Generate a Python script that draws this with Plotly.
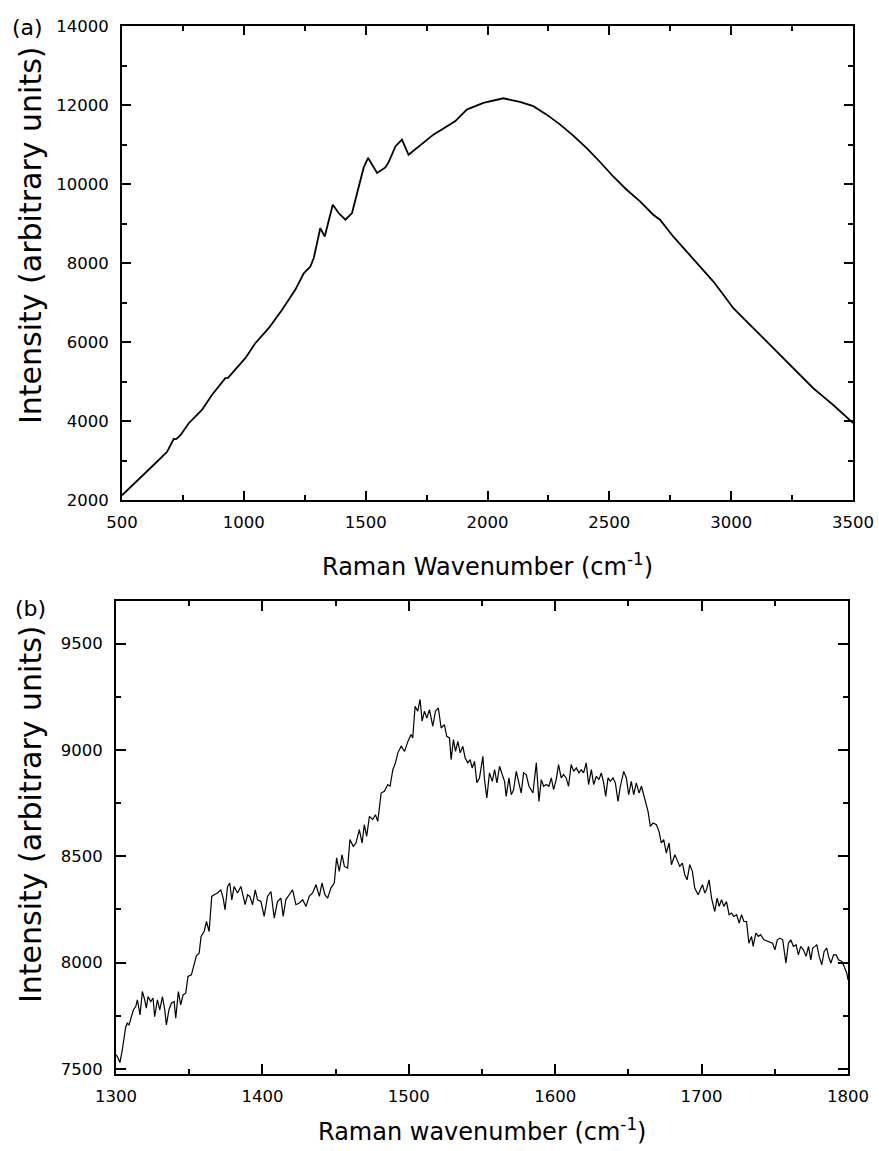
import plotly.graph_objects as go

# ---------------- data: panel (a) ----------------
top_wavenumber = [500, 582, 637, 685, 705, 712, 722, 740, 774, 828, 869, 910, 924, 935,
                  1006, 1047, 1102, 1157, 1211, 1246, 1273, 1287, 1314, 1332, 1365, 1389,
                  1417, 1444, 1464, 1492, 1510, 1547, 1581, 1594, 1622, 1649, 1676, 1731,
                  1778, 1867, 1915, 1983, 2065, 2133, 2188, 2243, 2297, 2352, 2407, 2462,
                  2516, 2571, 2626, 2680, 2708, 2762, 2804, 2872, 2927, 2968, 3009, 3064,
                  3118, 3173, 3228, 3283, 3337, 3378, 3419, 3494, 3500]
top_intensity = [2120, 2590, 2930, 3220, 3460, 3545, 3540, 3640, 3944, 4280, 4660, 5000, 5085, 5090,
                 5590, 5970, 6350, 6815, 7320, 7740, 7910, 8125, 8885, 8670, 9475, 9265,
                 9095, 9265, 9770, 10420, 10660, 10280, 10420, 10550, 10950, 11125, 10740, 11020,
                 11250, 11586, 11883, 12052, 12170, 12078, 11970, 11756, 11510, 11224, 10910, 10557,
                 10190, 9855, 9560, 9222, 9095, 8672, 8380, 7912, 7530, 7195, 6855, 6518,
                 6180, 5844, 5500, 5168, 4830, 4618, 4405, 3985, 3950]

# ---------------- data: panel (b) ----------------
bottom_wavenumber = [
    1300.0, 1300.9, 1302.7, 1304.3, 1306.6, 1307.7, 1308.9, 1310.0, 1311.9, 1313.5, 1314.6, 1316.4,
    1318.0, 1319.6, 1320.7, 1321.9, 1323.7, 1325.3, 1326.4, 1328.3, 1329.9, 1331.7, 1333.3, 1334.4,
    1336.2, 1337.8, 1339.7, 1340.8, 1342.6, 1344.2, 1345.8, 1347.6, 1349.2, 1351.5, 1353.3, 1354.9,
    1356.8, 1358.1, 1360.2, 1361.8, 1363.6, 1365.4, 1367.0, 1369.3, 1371.6, 1373.2, 1374.5, 1376.2,
    1377.7, 1379.1, 1380.7, 1383.0, 1385.3, 1386.9, 1388.2, 1389.9, 1391.4, 1393.3, 1395.1, 1396.7,
    1399.0, 1401.2, 1403.5, 1405.8, 1408.1, 1410.3, 1412.6, 1414.2, 1416.0, 1418.3, 1420.6, 1422.9,
    1425.2, 1427.5, 1429.8, 1432.0, 1434.3, 1436.6, 1438.9, 1440.7, 1442.7, 1444.6, 1446.8, 1449.1,
    1450.7, 1452.5, 1454.4, 1456.0, 1458.2, 1459.8, 1462.1, 1463.9, 1466.2, 1468.1, 1469.6, 1471.2,
    1473.1, 1475.3, 1477.2, 1478.8, 1481.1, 1483.3, 1485.6, 1487.2, 1489.1, 1490.9, 1492.5, 1494.8,
    1497.1, 1499.4, 1501.6, 1502.7, 1504.3, 1506.1, 1507.7, 1509.1, 1510.7, 1512.3, 1514.1, 1516.4,
    1518.2, 1520.2, 1522.1, 1524.3, 1525.9, 1527.8, 1528.9, 1530.5, 1531.9, 1533.5, 1535.1, 1536.9,
    1538.5, 1540.3, 1541.9, 1543.3, 1544.9, 1546.5, 1548.3, 1550.6, 1551.7, 1553.3, 1555.1, 1557.0,
    1558.6, 1560.2, 1562.0, 1563.8, 1565.4, 1566.5, 1568.4, 1570.0, 1571.6, 1573.4, 1575.2, 1576.8,
    1578.4, 1580.2, 1582.1, 1583.7, 1584.8, 1587.1, 1588.9, 1590.5, 1592.1, 1593.9, 1595.7, 1597.3,
    1598.9, 1600.7, 1602.3, 1604.1, 1605.7, 1607.5, 1609.1, 1610.9, 1612.6, 1614.4, 1616.2, 1617.8,
    1619.4, 1621.2, 1622.8, 1624.7, 1626.3, 1628.1, 1629.9, 1631.5, 1633.1, 1634.5, 1636.1, 1637.7,
    1639.5, 1641.1, 1642.9, 1644.5, 1646.8, 1648.6, 1650.2, 1652.0, 1653.6, 1655.4, 1657.3, 1658.9,
    1660.5, 1661.8, 1663.4, 1665.0, 1666.8, 1669.1, 1670.9, 1672.5, 1674.1, 1675.9, 1677.8, 1679.4,
    1681.7, 1683.2, 1685.1, 1686.9, 1688.5, 1690.1, 1691.9, 1693.7, 1695.3, 1697.6, 1700.6, 1702.2,
    1703.3, 1705.1, 1706.8, 1709.0, 1710.6, 1712.0, 1713.6, 1715.2, 1717.0, 1718.8, 1720.4, 1722.0,
    1723.9, 1725.7, 1727.3, 1728.9, 1730.7, 1732.3, 1734.1, 1735.2, 1737.1, 1738.7, 1740.3, 1742.6,
    1745.5, 1748.5, 1750.1, 1751.7, 1753.5, 1755.4, 1757.6, 1759.3, 1760.9, 1762.7, 1764.5, 1766.1,
    1767.7, 1769.5, 1771.4, 1773.0, 1774.6, 1775.9, 1777.5, 1778.7, 1780.3, 1782.1, 1783.7, 1785.5,
    1786.7, 1788.3, 1790.1, 1791.9, 1793.5, 1795.8, 1797.4, 1799.2, 1800.0]
bottom_intensity = [
    7566, 7558, 7530, 7589, 7696, 7715, 7707, 7731, 7778, 7793, 7825, 7754,
    7864, 7825, 7786, 7840, 7817, 7833, 7746, 7825, 7778, 7840, 7778, 7707,
    7778, 7809, 7817, 7738, 7864, 7801, 7848, 7856, 7935, 7942, 7989, 8032,
    8044, 8123, 8146, 8193, 8146, 8311, 8319, 8327, 8342, 8303, 8248, 8358,
    8374, 8295, 8358, 8327, 8358, 8311, 8272, 8319, 8311, 8272, 8342, 8295,
    8287, 8217, 8311, 8334, 8209, 8287, 8303, 8217, 8295, 8319, 8342, 8272,
    8280, 8295, 8264, 8311, 8327, 8366, 8311, 8374, 8319, 8303, 8350, 8374,
    8492, 8429, 8507, 8452, 8444, 8578, 8546, 8562, 8625, 8562, 8648, 8593,
    8687, 8672, 8695, 8664, 8797, 8805, 8837, 8829, 8907, 8939, 8986, 9017,
    8993, 9040, 9072, 9056, 9205, 9182, 9237, 9135, 9182, 9150, 9189, 9111,
    9182, 9197, 9103, 9119, 9064, 9056, 8954, 9048, 8993, 9040, 8986, 9017,
    8962, 8939, 8954, 8915, 8946, 8845, 8868, 8970, 8860, 8774, 8892, 8852,
    8907, 8845, 8923, 8884, 8852, 8781, 8868, 8789, 8813, 8899, 8852, 8797,
    8892, 8884, 8829, 8813, 8797, 8939, 8758, 8860, 8829, 8837, 8829, 8868,
    8813, 8860, 8931, 8868, 8884, 8868, 8829, 8931, 8899, 8915, 8892, 8907,
    8892, 8939, 8837, 8907, 8837, 8876, 8860, 8892, 8845, 8781, 8868, 8852,
    8868, 8845, 8758, 8829, 8899, 8868, 8789, 8852, 8789, 8845, 8797, 8829,
    8789, 8758, 8711, 8640, 8656, 8648, 8617, 8562, 8578, 8515, 8562, 8460,
    8507, 8484, 8452, 8468, 8413, 8389, 8460, 8429, 8350, 8319, 8366, 8327,
    8342, 8389, 8303, 8240, 8303, 8264, 8295, 8264, 8287, 8225, 8233, 8217,
    8225, 8186, 8225, 8193, 8193, 8091, 8123, 8076, 8139, 8123, 8131, 8107,
    8099, 8091, 8060, 8107, 8115, 8107, 7997, 8091, 8107, 8076, 8084, 8036,
    8076, 8060, 8029, 8076, 8013, 8068, 8076, 8084, 8029, 7989, 8052, 8068,
    8029, 7997, 8036, 8036, 8013, 8005, 7981, 7950, 7919]

top_xticks = [500, 1000, 1500, 2000, 2500, 3000, 3500]
top_yticks = [2000, 4000, 6000, 8000, 10000, 12000, 14000]
bottom_xticks = [1300, 1400, 1500, 1600, 1700, 1800]
bottom_yticks = [7500, 8000, 8500, 9000, 9500]

W, H = 879, 1151
FONT = "DejaVu Sans"

fig = go.Figure()
fig.add_trace(go.Scatter(x=top_wavenumber, y=top_intensity, mode="lines",
                         line=dict(color="black", width=1.8), xaxis="x", yaxis="y",
                         showlegend=False))
fig.add_trace(go.Scatter(x=bottom_wavenumber, y=bottom_intensity, mode="lines",
                         line=dict(color="black", width=1.2), xaxis="x2", yaxis="y2",
                         showlegend=False))


def axis(rng, tickvals, minor_dtick, domain, anchor, tick0, ticklen=9, standoff=8):
    return dict(
        range=rng, domain=domain, anchor=anchor,
        tickmode="array", tickvals=tickvals, ticktext=[str(v) for v in tickvals],
        ticks="inside", ticklen=ticklen, tickwidth=2, tickcolor="black",
        minor=dict(ticks="inside", dtick=minor_dtick, tick0=tick0, ticklen=5,
                   tickwidth=1.6, tickcolor="black", showgrid=False),
        showline=True, linewidth=2, linecolor="black", mirror="allticks",
        showgrid=False, zeroline=False, automargin=False,
        tickfont=dict(family=FONT, size=16.5, color="black"),
        ticklabelstandoff=standoff,
    )


xd1 = [122 / W, 853 / W]
yd1 = [1 - 500 / H, 1 - 26 / H]
xd2 = [116 / W, 848 / W]
yd2 = [1 - 1074 / H, 1 - 601 / H]

fig.update_layout(
    width=W, height=H, autosize=False,
    margin=dict(l=0, r=0, t=0, b=0, pad=0, autoexpand=False),
    paper_bgcolor="white", plot_bgcolor="white",
    xaxis=axis([500, 3500], top_xticks, 250, xd1, "y", 500, standoff=6),
    yaxis=axis([2000, 14000], top_yticks, 1000, yd1, "x", 2000, standoff=8),
    xaxis2=axis([1300, 1800], bottom_xticks, 50, xd2, "y2", 1300, ticklen=10, standoff=6),
    yaxis2=axis([7476, 9700], bottom_yticks, 250, yd2, "x2", 7500, ticklen=10, standoff=8),
)

ann_font = dict(family=FONT, color="black")
annotations = [
    dict(text="(a)", x=27.7 / W, y=1 - 27.7 / H, font=dict(size=22, **ann_font)),
    dict(text="(b)", x=30.8 / W, y=1 - 608 / H, font=dict(size=22, **ann_font)),
    dict(text="Raman Wavenumber (cm<sup>-1</sup>)", x=487.5 / W, y=1 - 565 / H,
         font=dict(size=24, **ann_font)),
    dict(text="Raman wavenumber (cm<sup>-1</sup>)", x=482 / W, y=1 - 1130 / H,
         font=dict(size=24, **ann_font)),
    dict(text="Intensity (arbitrary units)", x=30 / W, y=1 - 236 / H, textangle=-90,
         font=dict(size=30, **ann_font)),
    dict(text="Intensity (arbitrary units)", x=30 / W, y=1 - 815 / H, textangle=-90,
         font=dict(size=30, **ann_font)),
]
for a in annotations:
    a.update(xref="paper", yref="paper", showarrow=False, xanchor="center", yanchor="middle")
fig.update_layout(annotations=annotations)

fig.write_html("out.html")
